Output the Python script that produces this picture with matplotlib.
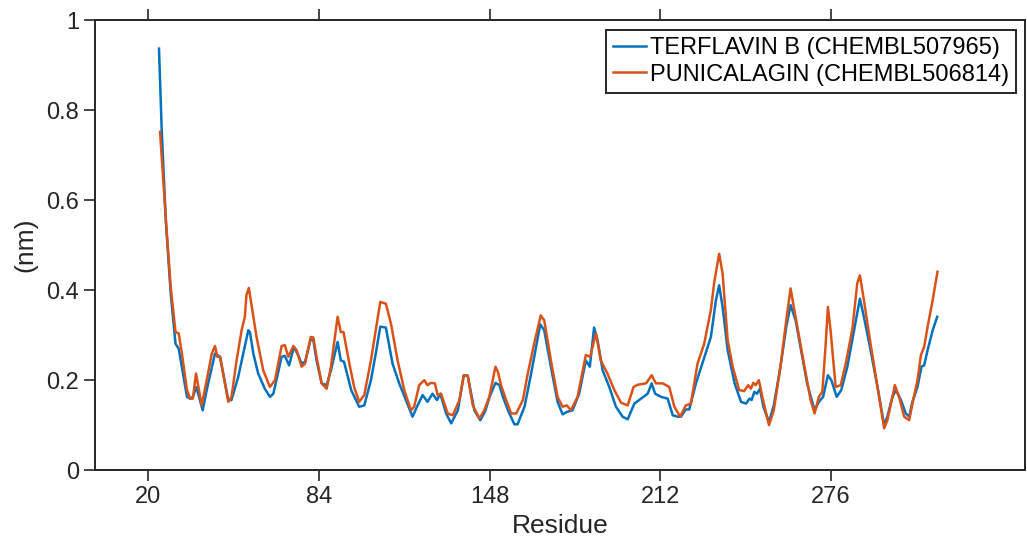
import matplotlib
matplotlib.use("Agg")
import matplotlib.pyplot as plt

# residue positions / RMSF values
terflavin_res = [24, 25, 26.6, 28.4, 30.2, 31.4, 34.5, 35.7, 36.7, 38.0, 40.4, 41.9, 45.0, 46.9, 50.0,
                 51.2, 53.7, 55.6, 57.5, 58.1, 59.4, 61.2, 63.7, 65.6, 66.9, 70.0, 71.2, 72.8, 74.6,
                 76.2, 77.5, 78.8, 80.9, 81.9, 83.1, 85.0, 86.9, 88.5, 91.0, 92.2, 93.4, 96.1, 99.1,
                 101.0, 103.5, 105.3, 107.0, 109.1, 111.6, 114.1, 116.6, 119.1, 121.0, 122.9, 124.7,
                 126.6, 128.3, 129.5, 131.7, 133.6, 136.1, 138.3, 139.8, 142.3, 144.5, 146.3, 148.0,
                 150.2, 151.7, 153.0, 154.9, 157.3, 158.5, 161.1, 163.6, 167.0, 168.5, 171.0, 173.5,
                 175.4, 177.2, 179.1, 181.6, 184.1, 185.6, 187.2, 188.5, 190.4, 192.9, 195.4, 197.9,
                 199.8, 202.3, 204.8, 207.3, 208.8, 210.1, 212.3, 214.8, 216.7, 218.5, 219.8, 221.6,
                 222.9, 225.4, 227.8, 231.0, 232.9, 234.1, 235.4, 237.3, 239.9, 242.3, 244.2, 245.5,
                 246.3, 247.3, 248.3, 249.4, 250.7, 252.8, 254.6, 257.1, 259.3, 260.9, 262.8, 264.6,
                 267.1, 269.9, 271.5, 273.1, 274.9, 276.2, 278.2, 279.9, 282.2, 284.7, 286.9, 288.4,
                 290.9, 293.5, 296.0, 297.2, 299.1, 300.4, 302.3, 304.1, 305.4, 306.6, 308.5, 310.0,
                 311.0, 312.3, 314.2, 315.9]
terflavin_val = [0.937, 0.76, 0.55, 0.393, 0.281, 0.270, 0.163, 0.159, 0.163, 0.185, 0.133, 0.178, 0.259,
                 0.252, 0.156, 0.156, 0.207, 0.259, 0.311, 0.307, 0.259, 0.215, 0.181, 0.163, 0.170,
                 0.252, 0.254, 0.233, 0.274, 0.256, 0.237, 0.241, 0.291, 0.289, 0.244, 0.193, 0.189,
                 0.222, 0.285, 0.244, 0.241, 0.178, 0.141, 0.144, 0.200, 0.259, 0.319, 0.317, 0.237,
                 0.193, 0.156, 0.119, 0.144, 0.167, 0.152, 0.170, 0.156, 0.170, 0.126, 0.104, 0.133,
                 0.211, 0.210, 0.133, 0.111, 0.130, 0.163, 0.194, 0.189, 0.163, 0.133, 0.102, 0.102,
                 0.141, 0.215, 0.324, 0.311, 0.230, 0.152, 0.124, 0.130, 0.133, 0.170, 0.244, 0.230,
                 0.317, 0.289, 0.222, 0.185, 0.141, 0.119, 0.113, 0.148, 0.159, 0.170, 0.193, 0.170,
                 0.163, 0.159, 0.122, 0.119, 0.119, 0.135, 0.135, 0.193, 0.237, 0.296, 0.378, 0.411,
                 0.363, 0.267, 0.193, 0.152, 0.148, 0.159, 0.156, 0.174, 0.170, 0.181, 0.141, 0.107,
                 0.144, 0.230, 0.319, 0.367, 0.333, 0.274, 0.193, 0.133, 0.152, 0.163, 0.211, 0.200,
                 0.163, 0.178, 0.230, 0.311, 0.381, 0.341, 0.267, 0.185, 0.100, 0.119, 0.163, 0.178,
                 0.156, 0.126, 0.119, 0.152, 0.185, 0.230, 0.233, 0.267, 0.311, 0.341]

punicalagin_res = [24.4, 26.6, 28.4, 30.2, 31.4, 32.6, 34.5, 35.7, 36.7, 37.9, 38.8, 40.0, 41.9, 43.8,
                   45.0, 45.9, 46.9, 50.0, 51.2, 53.1, 55.0, 56.2, 56.8, 57.7, 58.7, 60.6, 63.1, 65.6,
                   67.5, 70.0, 71.2, 72.5, 74.4, 75.6, 77.5, 78.8, 80.9, 81.9, 83.1, 85.0, 86.9, 88.5,
                   91.0, 92.2, 93.2, 95.4, 97.2, 99.1, 101.0, 103.5, 105.3, 107.0, 109.1, 111.0, 113.5,
                   116.0, 118.5, 119.7, 121.6, 123.5, 124.7, 126.0, 127.5, 128.5, 129.8, 132.3, 134.2,
                   136.7, 138.3, 139.8, 141.7, 144.2, 146.0, 147.9, 150.2, 151.1, 152.3, 154.2, 156.1,
                   158.0, 160.5, 162.2, 164.7, 167.2, 168.5, 171.0, 173.5, 175.4, 177.0, 178.5, 181.0,
                   184.1, 185.7, 187.9, 189.7, 192.2, 194.8, 197.3, 199.8, 202.0, 203.6, 206.7, 208.8,
                   210.4, 212.9, 215.4, 217.3, 219.5, 221.6, 223.5, 226.0, 228.5, 231.0, 232.3, 234.1,
                   235.4, 237.3, 239.2, 241.6, 243.5, 245.0, 246.0, 246.9, 247.8, 249.0, 250.3, 252.8,
                   254.6, 257.1, 259.6, 260.9, 262.1, 264.0, 265.9, 268.4, 269.9, 271.5, 272.8, 274.0,
                   274.9, 275.9, 277.8, 279.7, 281.6, 284.1, 285.9, 286.9, 288.4, 290.9, 293.5, 296.0,
                   297.2, 299.1, 300.0, 301.6, 303.5, 305.4, 306.6, 308.5, 309.8, 311.0, 312.3, 314.2,
                   316.0]
punicalagin_val = [0.752, 0.556, 0.407, 0.307, 0.304, 0.259, 0.178, 0.159, 0.159, 0.215, 0.185, 0.144,
                   0.200, 0.259, 0.276, 0.252, 0.252, 0.152, 0.163, 0.244, 0.311, 0.341, 0.389, 0.405,
                   0.367, 0.296, 0.222, 0.185, 0.200, 0.276, 0.278, 0.252, 0.276, 0.267, 0.230, 0.237,
                   0.296, 0.295, 0.252, 0.193, 0.181, 0.230, 0.341, 0.307, 0.307, 0.237, 0.185, 0.152,
                   0.167, 0.244, 0.311, 0.374, 0.370, 0.326, 0.244, 0.178, 0.133, 0.141, 0.189, 0.200,
                   0.189, 0.194, 0.193, 0.167, 0.170, 0.126, 0.122, 0.156, 0.210, 0.210, 0.144, 0.115,
                   0.133, 0.163, 0.230, 0.219, 0.189, 0.156, 0.126, 0.126, 0.156, 0.211, 0.281, 0.344,
                   0.333, 0.244, 0.163, 0.141, 0.144, 0.133, 0.163, 0.256, 0.252, 0.304, 0.244, 0.215,
                   0.178, 0.150, 0.144, 0.185, 0.190, 0.193, 0.211, 0.193, 0.193, 0.185, 0.141, 0.119,
                   0.144, 0.148, 0.237, 0.281, 0.356, 0.419, 0.481, 0.437, 0.289, 0.230, 0.178, 0.176,
                   0.189, 0.181, 0.194, 0.189, 0.200, 0.163, 0.100, 0.133, 0.230, 0.348, 0.404, 0.363,
                   0.300, 0.237, 0.156, 0.126, 0.163, 0.174, 0.274, 0.363, 0.311, 0.185, 0.189, 0.237,
                   0.315, 0.415, 0.433, 0.378, 0.281, 0.185, 0.093, 0.111, 0.163, 0.189, 0.163, 0.119,
                   0.111, 0.148, 0.200, 0.256, 0.274, 0.319, 0.378, 0.441]

labels = ["TERFLAVIN B (CHEMBL507965)", "PUNICALAGIN (CHEMBL506814)"]
xticks = [20, 84, 148, 212, 276]
yticks = [0, 0.2, 0.4, 0.6, 0.8, 1]
ytick_labels = ["0", "0.2", "0.4", "0.6", "0.8", "1"]

plt.rcParams['font.family'] = ['Liberation Sans', 'DejaVu Sans']

fig = plt.figure(figsize=(10.27, 5.48), dpi=100)
ax = fig.add_axes([0.0925, 0.142, 0.906, 0.821])

ax.plot(terflavin_res, terflavin_val, color='#0072BD', lw=1.8, label=labels[0])
ax.plot(punicalagin_res, punicalagin_val, color='#D95319', lw=1.8, label=labels[1])

ax.set_xlim(0, 349)
ax.set_ylim(0, 1)
ax.set_xticks(xticks)
ax.set_yticks(yticks)
ax.set_yticklabels(ytick_labels)
ax.tick_params(direction='out', length=8, width=1.2, colors='#262626', labelsize=17,
               top=True, right=False, labeltop=False)
for s in ax.spines.values():
    s.set_linewidth(1.4)
    s.set_color('#262626')

ax.set_xlabel("Residue", fontsize=19, color='#262626', labelpad=4)
ax.set_ylabel("(nm)", fontsize=19, color='#262626', labelpad=6)

leg = ax.legend(loc='upper right', fontsize=17, handlelength=1.4, handletextpad=0.15,
                borderpad=0.3, labelspacing=0.2, fancybox=False, framealpha=1,
                borderaxespad=0.4)
leg.get_frame().set_edgecolor('#262626')
leg.get_frame().set_linewidth(1.4)

fig.savefig("out.png", dpi=100)
